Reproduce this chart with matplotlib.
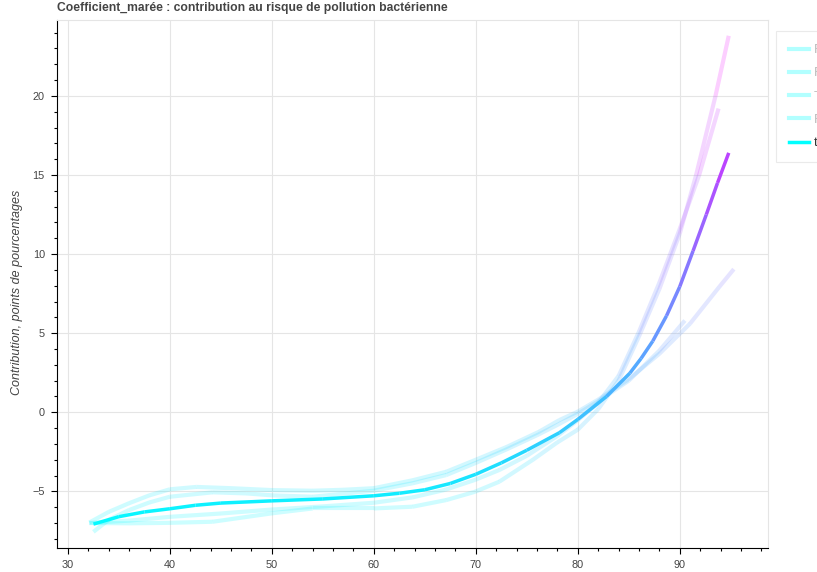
import numpy as np
import matplotlib
matplotlib.use("Agg")
import matplotlib.pyplot as plt
from matplotlib.collections import LineCollection
from matplotlib.lines import Line2D
from matplotlib.ticker import MultipleLocator

plt.rcParams['font.family'] = ['Liberation Sans', 'DejaVu Sans']

# valeurs
x_f1 = [32.1, 34, 36, 38, 40, 42.6, 46, 50, 54, 57, 60, 63.8, 67.1, 70, 73, 76.2, 78.2, 80, 82, 85, 88, 91, 93.9, 95.3]
y_f1 = [-6.97, -6.3, -5.75, -5.25, -4.87, -4.72, -4.8, -4.92, -4.96, -4.9, -4.8, -4.3, -3.76, -3.0, -2.2, -1.23, -0.49, 0.04, 0.8, 2.1, 3.7, 5.6, 7.95, 9.05]

x_f2 = [32.5, 34, 36, 38, 40, 44.2, 47.5, 50, 54, 57.3, 60, 63.8, 67.1, 70, 73, 76, 78, 80, 82, 85, 88, 90.5]
y_f2 = [-7.56, -6.8, -6.18, -5.7, -5.34, -5.06, -5.13, -5.25, -5.34, -5.13, -4.96, -4.49, -3.97, -3.2, -2.35, -1.45, -0.8, -0.1, 0.7, 2.0, 3.9, 5.8]

x_f3 = [32.1, 36, 40, 45, 50, 55, 60, 63.8, 67, 69.9, 72.3, 75, 78, 80, 82, 84, 86, 88, 90, 91.9, 93.8]
y_f3 = [-7.0, -6.85, -6.61, -6.4, -6.15, -5.95, -5.72, -5.38, -4.9, -4.28, -3.65, -2.75, -1.5, -0.5, 0.6, 2.3, 5.1, 8.2, 11.6, 15.0, 19.2]

x_f4 = [32.1, 36, 40, 44.2, 50, 54, 60, 63.8, 67.1, 69.9, 72.3, 75.6, 78, 80, 82, 84, 86, 88, 90, 91.6, 93.5, 94.8]
y_f4 = [-7.0, -7.02, -6.99, -6.92, -6.39, -6.08, -6.08, -5.97, -5.55, -5.03, -4.39, -3.0, -1.9, -1.1, 0.2, 2.0, 4.8, 7.8, 11.3, 15.0, 20.0, 23.8]

x_tot = [32.5, 35, 37.5, 40, 42.5, 45, 50, 55, 60, 62.5, 65, 67.5, 70, 72.5, 75, 78.2, 80, 82.8, 85.1, 86.2, 87.35, 88.7, 90, 91.3, 92.6, 93.7, 94.8]
y_tot = [-7.07, -6.6, -6.3, -6.1, -5.88, -5.74, -5.6, -5.48, -5.28, -5.12, -4.9, -4.5, -3.92, -3.2, -2.4, -1.29, -0.45, 0.99, 2.47, 3.4, 4.5, 6.1, 7.95, 10.2, 12.5, 14.5, 16.4]

labels = ["Fold 1", "Fold 2", "Train", "Fold 3", "total"]

faint = [(x_f1, y_f1), (x_f2, y_f2), (x_f3, y_f3), (x_f4, y_f4)]
all_y = np.concatenate([np.array(y) for _, y in faint] + [np.array(y_tot)])
cmap = plt.get_cmap("cool")
norm = plt.Normalize(all_y.min(), all_y.max())


def gradient_line(ax, x, y, lw, alpha, z):
    x = np.asarray(x)
    y = np.asarray(y)
    pts = np.column_stack([x, y])
    segs = np.stack([pts[:-1], pts[1:]], axis=1)
    mid = (y[:-1] + y[1:]) / 2
    lc = LineCollection(segs, colors=cmap(norm(mid)), linewidths=lw,
                        alpha=alpha, capstyle='butt', zorder=z)
    ax.add_collection(lc)


W, H = 817, 572
fig = plt.figure(figsize=(W / 100, H / 100), dpi=100)
ax = fig.add_axes([56.7 / W, (H - 548.3) / H, (767.5 - 56.7) / W, (548.3 - 20) / H])

for x, y in faint:
    gradient_line(ax, x, y, 3.0, 0.2, 2)
gradient_line(ax, x_tot, y_tot, 2.5, 1.0, 3)

ax.set_xlim(28.9, 98.6)
ax.set_ylim(-8.6, 24.8)

ax.xaxis.set_major_locator(MultipleLocator(10))
ax.xaxis.set_minor_locator(MultipleLocator(2))
ax.yaxis.set_major_locator(MultipleLocator(5))
ax.yaxis.set_minor_locator(MultipleLocator(1))
ax.tick_params(which='major', direction='out', length=4.5, width=0.8, color='black',
               labelsize=7.8, labelcolor='#444444', pad=4)
ax.tick_params(which='minor', direction='out', length=2.5, width=0.8, color='black')
ax.yaxis.set_major_formatter(plt.FuncFormatter(lambda v, p: f"{v:g}".replace("-", "\u2212")))

ax.grid(True, which='major', color='#e5e5e5', lw=0.8, zorder=0)
ax.set_axisbelow(True)
for s in ['top', 'right']:
    ax.spines[s].set_color('#e5e5e5')
    ax.spines[s].set_linewidth(0.8)
for s in ['left', 'bottom']:
    ax.spines[s].set_color('black')
    ax.spines[s].set_linewidth(0.8)

fig.text(57 / W, 1 - 8 / H, "Coefficient_marée : contribution au risque de pollution bactérienne",
         ha='left', va='center', fontsize=8.7, fontweight='bold', color='#444444')
fig.text(17.5 / W, 1 - 292 / H, "Contribution, points de pourcentages", rotation=90,
         ha='center', va='center', fontsize=9.0, style='italic', color='#444444')

handles = [Line2D([], [], color=cmap(0.0), lw=3, alpha=0.3) for _ in range(4)]
handles.append(Line2D([], [], color=cmap(0.0), lw=2.5))
leg = fig.legend(handles, labels, loc='upper left', bbox_to_anchor=(776 / W, 1 - 31 / H),
                 borderaxespad=0, fontsize=9.4, frameon=True, fancybox=False,
                 handlelength=1.5, handletextpad=0.4, labelspacing=0.85, borderpad=1.0)
leg.get_frame().set_edgecolor('#e5e5e5')
leg.get_frame().set_linewidth(0.8)
for i, t in enumerate(leg.get_texts()):
    t.set_color('#bbbbbb' if i < 4 else '#333333')

fig.savefig("out.png", dpi=100)
